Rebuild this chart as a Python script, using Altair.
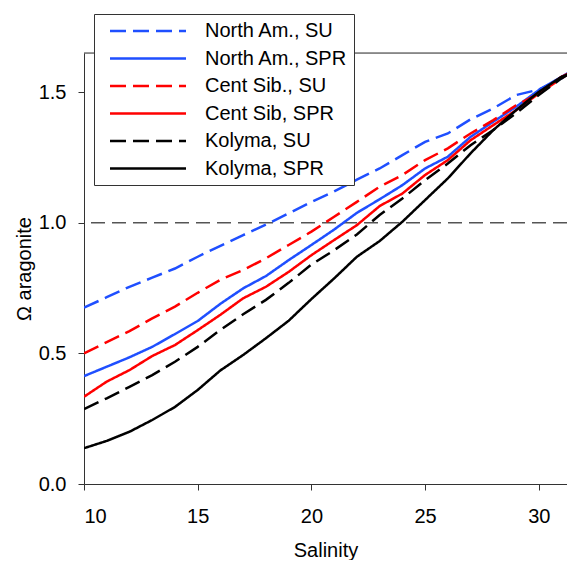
import altair as alt
import pandas as pd

salinity = [10, 11, 12, 13, 14, 15, 16, 17, 18, 19, 20, 21, 22, 23, 24, 25, 26, 27, 28, 29, 30, 31, 31.5]

na_su = [0.675, 0.715, 0.755, 0.79, 0.825, 0.87, 0.912, 0.953, 0.993, 1.036, 1.08, 1.12, 1.165, 1.208,
         1.259, 1.31, 1.342, 1.396, 1.438, 1.489, 1.51, 1.553, 1.582]
na_spr = [0.413, 0.449, 0.485, 0.525, 0.574, 0.624, 0.69, 0.749, 0.796, 0.857, 0.915, 0.974, 1.038, 1.09,
          1.144, 1.208, 1.253, 1.329, 1.387, 1.444, 1.508, 1.559, 1.585]
cs_su = [0.50, 0.543, 0.585, 0.634, 0.679, 0.732, 0.782, 0.819, 0.864, 0.915, 0.966, 1.023, 1.08, 1.138,
         1.183, 1.24, 1.285, 1.342, 1.393, 1.45, 1.495, 1.553, 1.582]
cs_spr = [0.334, 0.392, 0.436, 0.49, 0.532, 0.589, 0.648, 0.711, 0.755, 0.812, 0.876, 0.934, 0.991, 1.064,
          1.112, 1.183, 1.24, 1.316, 1.374, 1.431, 1.495, 1.559, 1.58]
ko_su = [0.287, 0.328, 0.372, 0.417, 0.468, 0.525, 0.59, 0.65, 0.705, 0.77, 0.84, 0.895, 0.955, 1.03,
         1.093, 1.163, 1.227, 1.297, 1.355, 1.419, 1.489, 1.553, 1.58]
ko_spr = [0.137, 0.165, 0.20, 0.245, 0.295, 0.36, 0.435, 0.494, 0.558, 0.625, 0.708, 0.787, 0.87, 0.93,
          1.004, 1.087, 1.17, 1.266, 1.355, 1.431, 1.501, 1.559, 1.575]

names = ["North Am., SU", "North Am., SPR", "Cent Sib., SU", "Cent Sib, SPR", "Kolyma, SU", "Kolyma, SPR"]
series = [na_su, na_spr, cs_su, cs_spr, ko_su, ko_spr]
colors = ["#1f4fff", "#1f4fff", "#ff0000", "#ff0000", "#000000", "#000000"]
dashes = [[16, 7], [1, 0], [16, 7], [1, 0], [16, 7], [1, 0]]

x_ticks = [10, 15, 20, 25, 30]
y_ticks = [0.0, 0.5, 1.0, 1.5]
ref_level = [1.0]
y_top = [1.65]

rows = []
for name, vals in zip(names, series):
    for s, v in zip(salinity, vals):
        rows.append({"salinity": s, "omega": v, "series": name})
df = pd.DataFrame(rows)

FONT = "Liberation Sans"

legend = alt.Legend(
    orient="none", legendX=10, legendY=-39, title=None,
    fillColor="white", strokeColor="#333333", padding=6,
    symbolType="M-4,0L4,0", symbolSize=361, symbolStrokeWidth=2.5,
    symbolOffset=37, labelOffset=46, rowPadding=6.5,
    labelFontSize=20, labelFont=FONT, labelColor="black", labelLimit=300,
)

xs = alt.Scale(domain=[10, 31.24], nice=False, zero=False)
ys = alt.Scale(domain=[0, 1.65], nice=False)

x_axis = alt.Axis(values=x_ticks, title="Salinity", labelFontSize=20, titleFontSize=20,
                  titleFontWeight="normal", tickSize=6, labelPadding=16, titlePadding=14,
                  domainColor="#333333", tickColor="#333333", labelColor="black", titleColor="black",
                  grid=False, labelFont=FONT, titleFont=FONT)
y_axis = alt.Axis(values=y_ticks, format=".1f", title="Ω aragonite", labelFontSize=20, titleFontSize=20,
                  titleFontWeight="normal", tickSize=6, labelPadding=12, titlePadding=4,
                  domainColor="#333333", tickColor="#333333", labelColor="black", titleColor="black",
                  grid=False, labelFont=FONT, titleFont=FONT)

ref = alt.Chart(pd.DataFrame({"v": ref_level})).mark_rule(
    color="#555555", strokeDash=[14, 7], strokeWidth=1.5
).encode(y=alt.Y("v:Q", scale=ys, axis=y_axis))

top = alt.Chart(pd.DataFrame({"v": y_top})).mark_rule(color="#333333", strokeWidth=1).encode(
    y=alt.Y("v:Q", scale=ys, axis=y_axis)
)

lines = alt.Chart(df).mark_line(strokeWidth=2.5, clip=True).encode(
    x=alt.X("salinity:Q", scale=xs, axis=x_axis),
    y=alt.Y("omega:Q", scale=ys, axis=y_axis),
    color=alt.Color("series:N", scale=alt.Scale(domain=names, range=colors), legend=legend),
    strokeDash=alt.StrokeDash("series:N", scale=alt.Scale(domain=names, range=dashes), legend=legend),
    order=alt.Order("salinity:Q"),
)

chart = alt.layer(ref, top, lines).properties(
    width=483, height=431,
    autosize=alt.AutoSizeParams(type="none"),
    padding={"left": 76, "top": 45, "right": 0, "bottom": 76},
).configure_view(stroke=None).configure(font=FONT)

chart.save("out.html", embed_options={"renderer": "svg", "actions": False})
